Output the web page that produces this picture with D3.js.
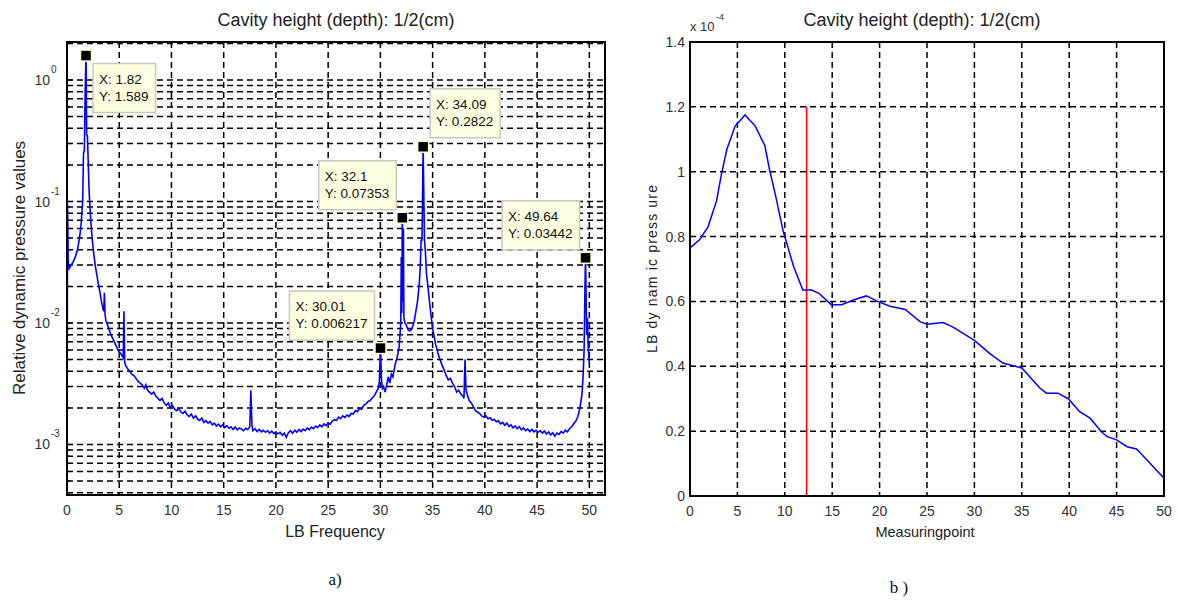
<!DOCTYPE html>
<html>
<head>
<meta charset="utf-8">
<script src="https://cdn.jsdelivr.net/npm/d3@7"></script>
<style>
  body { margin: 0; background: #fff; }
  svg { display: block; font-family: "Liberation Sans", Arial, sans-serif; }
</style>
</head>
<body>
<svg id="chart" width="1178" height="601"></svg>
<script>
const titleText = 'Cavity height (depth): 1/2(cm)';

// a) spectrum, values (frequency, relative pressure)
const lbFreq = [
  0.00, 0.05, 0.12, 0.20, 0.40, 0.60, 0.80, 1.00, 1.20, 1.35, 1.50, 1.58, 1.66, 1.74, 1.82, 1.88, 1.96, 2.04, 2.12, 2.25,
  2.40, 2.55, 2.70, 2.85, 3.00, 3.15, 3.30, 3.45, 3.52, 3.58, 3.64, 3.72, 3.85, 4.00, 4.20, 4.40, 4.60, 4.80, 5.00, 5.20,
  5.38, 5.45, 5.52, 5.60, 5.80, 6.00, 6.20, 6.40, 6.60, 6.80, 7.00, 7.20, 7.40, 7.55, 7.70, 7.90, 8.10, 8.30, 8.50, 8.70,
  8.90, 9.10, 9.30, 9.50, 9.70, 9.90, 10.1, 10.3, 10.5, 10.7, 10.9, 11.1, 11.3, 11.5, 11.7, 11.9, 12.1, 12.3, 12.5, 12.7,
  12.9, 13.1, 13.3, 13.5, 13.7, 13.9, 14.1, 14.3, 14.5, 14.7, 14.9, 15.1, 15.3, 15.5, 15.7, 15.9, 16.1, 16.3, 16.5, 16.7,
  16.9, 17.1, 17.3, 17.5, 17.6, 17.7, 17.8, 18.0, 18.2, 18.4, 18.6, 18.8, 19.0, 19.2, 19.4, 19.6, 19.8, 20.0, 20.2, 20.4,
  20.6, 20.8, 21.0, 21.2, 21.4, 21.6, 21.8, 22.0, 22.2, 22.4, 22.6, 22.8, 23.0, 23.2, 23.4, 23.6, 23.8, 24.0, 24.2, 24.4,
  24.6, 24.8, 25.0, 25.2, 25.4, 25.6, 25.8, 26.0, 26.2, 26.4, 26.6, 26.8, 27.0, 27.2, 27.4, 27.6, 27.8, 28.0, 28.2, 28.4,
  28.6, 28.8, 29.0, 29.2, 29.4, 29.6, 29.8, 29.9, 30.01, 30.1, 30.2, 30.3, 30.45, 30.6, 30.75, 30.9, 31.05, 31.2, 31.4, 31.6,
  31.8, 31.95, 32.0, 32.05, 32.1, 32.15, 32.2, 32.25, 32.35, 32.5, 32.65, 32.8, 32.95, 33.1, 33.25, 33.4, 33.55, 33.7, 33.8, 33.9,
  33.98, 34.04, 34.09, 34.15, 34.22, 34.3, 34.4, 34.55, 34.7, 34.85, 35.0, 35.15, 35.3, 35.5, 35.7, 35.9, 36.1, 36.3, 36.5, 36.7,
  36.9, 37.1, 37.3, 37.5, 37.7, 37.9, 38.0, 38.1, 38.2, 38.3, 38.5, 38.7, 38.9, 39.1, 39.3, 39.5, 39.7, 39.9, 40.1, 40.3,
  40.5, 40.7, 40.9, 41.1, 41.3, 41.5, 41.7, 41.9, 42.1, 42.3, 42.5, 42.7, 42.9, 43.1, 43.3, 43.5, 43.7, 43.9, 44.1, 44.3,
  44.5, 44.7, 44.9, 45.1, 45.3, 45.5, 45.7, 45.9, 46.1, 46.3, 46.5, 46.7, 46.9, 47.1, 47.3, 47.5, 47.7, 47.9, 48.1, 48.3,
  48.5, 48.7, 48.9, 49.1, 49.3, 49.4, 49.5, 49.55, 49.6, 49.64, 49.7, 49.75, 49.82, 49.9, 50.0
];
const lbValue = [
  0.0003, 0.095, 0.031, 0.028, 0.030, 0.032, 0.035, 0.040, 0.050, 0.065, 0.10, 0.25, 0.26, 0.80, 1.589, 0.36, 0.34, 0.20, 0.12, 0.075,
  0.050, 0.038, 0.030, 0.025, 0.021, 0.018, 0.015, 0.013, 0.0125, 0.0177, 0.0118, 0.0105, 0.0098, 0.0090, 0.0080, 0.0074, 0.0068, 0.0062, 0.0058, 0.0055,
  0.0052, 0.0125, 0.0048, 0.0045, 0.0042, 0.0040, 0.0038, 0.0037, 0.0035, 0.0033, 0.0032, 0.0031, 0.0029, 0.0031, 0.0028, 0.0027, 0.0026, 0.0027, 0.0025, 0.0024,
  0.0023, 0.0024, 0.0022, 0.0021, 0.0022, 0.0020, 0.0021, 0.00195, 0.0019, 0.00198, 0.00185, 0.0018, 0.00188, 0.00175, 0.0017, 0.00178, 0.00165, 0.00172, 0.00162, 0.00158,
  0.00165, 0.00152, 0.00157, 0.0015, 0.00155, 0.00145, 0.0015, 0.00142, 0.00147, 0.0014, 0.00145, 0.00138, 0.00143, 0.00136, 0.0014, 0.00133, 0.00139, 0.00132, 0.00137, 0.00134,
  0.0013, 0.00136, 0.00133, 0.0014, 0.0028, 0.00145, 0.0013, 0.00135, 0.00128, 0.00133, 0.00127, 0.00131, 0.00126, 0.0013, 0.00124, 0.00129, 0.00123, 0.00127, 0.00122, 0.00126,
  0.00119, 0.00124, 0.00115, 0.00125, 0.0013, 0.00124, 0.00131, 0.00126, 0.00133, 0.00128, 0.00134, 0.0013, 0.00137, 0.00132, 0.00139, 0.00135, 0.00142, 0.00138, 0.00145, 0.0014,
  0.00148, 0.00143, 0.0015, 0.00147, 0.00156, 0.0016, 0.00158, 0.00168, 0.00163, 0.00172, 0.00167, 0.00175, 0.0017, 0.0018, 0.00178, 0.0019, 0.00186, 0.00198, 0.00195, 0.0021,
  0.00215, 0.00225, 0.0023, 0.0024, 0.0025, 0.0027, 0.0029, 0.0033, 0.006217, 0.0034, 0.0029, 0.0030, 0.0027, 0.0031, 0.0036, 0.0032, 0.0038, 0.0036, 0.0045, 0.0052,
  0.0064, 0.0100, 0.035, 0.012, 0.07353, 0.015, 0.060, 0.011, 0.0100, 0.0095, 0.0088, 0.0086, 0.0088, 0.0094, 0.0105, 0.0125, 0.0150, 0.0200, 0.027, 0.048,
  0.048, 0.12, 0.2822, 0.12, 0.048, 0.040, 0.026, 0.020, 0.015, 0.0115, 0.0090, 0.0077, 0.0066, 0.0057, 0.0050, 0.0045, 0.0041, 0.0037, 0.0034, 0.0035,
  0.0032, 0.0030, 0.0027, 0.0028, 0.0026, 0.0025, 0.0024, 0.0050, 0.0028, 0.0026, 0.0023, 0.0022, 0.00205, 0.0019, 0.00185, 0.0018, 0.00172, 0.00168, 0.00172, 0.00163,
  0.00166, 0.00158, 0.00161, 0.00154, 0.00157, 0.00148, 0.00152, 0.00144, 0.0015, 0.00141, 0.00145, 0.00137, 0.00142, 0.00135, 0.0014, 0.00132, 0.00137, 0.0013, 0.00134, 0.00128,
  0.00133, 0.00127, 0.00131, 0.00126, 0.0013, 0.00124, 0.00129, 0.00122, 0.00127, 0.0012, 0.00125, 0.00117, 0.00124, 0.00121, 0.00128, 0.00124, 0.00131, 0.00127, 0.00135, 0.0014,
  0.00148, 0.00155, 0.0017, 0.0020, 0.0026, 0.0036, 0.0060, 0.012, 0.025, 0.03442, 0.014, 0.008, 0.011, 0.0062, 0.0047
];
const freqTicks = [0, 5, 10, 15, 20, 25, 30, 35, 40, 45, 50];
const decadeTicks = [1e-3, 1e-2, 1e-1, 1];
const decadeLabels = ['-3', '-2', '-1', '0'];

// data tips shown on the spectrum
const tipFreq  = [1.82, 34.09, 32.1, 30.01, 49.64];
const tipValue = [1.589, 0.2822, 0.07353, 0.006217, 0.03442];
const tipSide  = ['se', 'ne', 'nw', 'nw', 'nw'];

// b) LB dynamic pressure along the measuring points (x 1e-4)
const mpPoint = [
  0, 1.0, 1.9, 2.8, 3.3, 3.9, 4.75, 5.8, 6.9, 7.9, 8.4, 9.0, 9.8, 10.9, 11.9, 12.8, 13.6, 14.9, 16.0, 17.3,
  18.6, 19.8, 21.1, 22.7, 24.3, 25.0, 26.7, 27.8, 30.0, 31.6, 33.0, 35.0, 36.9, 37.6, 38.8, 39.9, 41.1, 42.2, 43.4, 44.0,
  45.0, 46.1, 47.1, 48.2, 50.0
];
const mpPressure = [
  0.765, 0.79, 0.83, 0.91, 0.99, 1.07, 1.14, 1.175, 1.14, 1.08, 1.005, 0.93, 0.82, 0.71, 0.635, 0.635, 0.625, 0.59, 0.59, 0.605,
  0.617, 0.60, 0.585, 0.575, 0.537, 0.53, 0.535, 0.52, 0.48, 0.44, 0.41, 0.395, 0.333, 0.317, 0.317, 0.30, 0.26, 0.24, 0.198, 0.183,
  0.173, 0.152, 0.145, 0.111, 0.055
];
const mpTicksX = [0, 5, 10, 15, 20, 25, 30, 35, 40, 45, 50];
const mpTicksY = [0, 0.2, 0.4, 0.6, 0.8, 1, 1.2, 1.4];
const cutPoint = 12.3;
const cutTop = 1.2;

const svg = d3.select('#chart');
const gridDash = '6,4';

function frame(g, b) {
  g.append('rect')
    .attr('x', b.left).attr('y', b.top)
    .attr('width', b.right - b.left).attr('height', b.bottom - b.top)
    .attr('fill', 'none').attr('stroke', '#000').attr('stroke-width', 2);
}

// ---------- a) ----------
const A = { left: 67, right: 605, top: 42, bottom: 495 };
const xA = d3.scaleLinear().domain([0, 51.5]).range([A.left, A.right]);
const yA = d3.scaleLog().domain([3.84e-4, 2.055]).range([A.bottom, A.top]);

const ga = svg.append('g');

// grid: every log tick (majors and minors) is dashed, like MATLAB's minor grid
ga.append('g').selectAll('line')
  .data(yA.ticks())
  .join('line')
  .attr('x1', A.left).attr('x2', A.right)
  .attr('y1', d => yA(d)).attr('y2', d => yA(d))
  .attr('stroke', '#000').attr('stroke-width', 1.5).attr('stroke-dasharray', gridDash);

ga.append('g').selectAll('line')
  .data(freqTicks.slice(1))
  .join('line')
  .attr('x1', d => xA(d)).attr('x2', d => xA(d))
  .attr('y1', A.top).attr('y2', A.bottom)
  .attr('stroke', '#000').attr('stroke-width', 1.5).attr('stroke-dasharray', gridDash);

// inside ticks
ga.append('g').selectAll('line')
  .data(yA.ticks())
  .join('line')
  .attr('x1', A.left).attr('x2', d => A.left + (decadeTicks.includes(d) ? 6 : 3))
  .attr('y1', d => yA(d)).attr('y2', d => yA(d))
  .attr('stroke', '#000').attr('stroke-width', 1.2);

const spectrum = lbFreq.map((f, i) => [f, lbValue[i]]);
ga.append('path')
  .datum(spectrum)
  .attr('fill', 'none')
  .attr('stroke', '#0000ff')
  .attr('stroke-width', 1.6)
  .attr('d', d3.line()
    .x(d => xA(d[0]))
    .y(d => Math.min(A.bottom, yA(Math.max(d[1], 1e-5)))));

frame(ga, A);

// tick labels
ga.append('g').selectAll('text')
  .data(freqTicks)
  .join('text')
  .attr('x', d => xA(d)).attr('y', 515)
  .attr('text-anchor', 'middle')
  .attr('font-size', 14).attr('fill', '#333')
  .text(d => d);

const dec = ga.append('g').selectAll('g')
  .data(decadeTicks)
  .join('g')
  .attr('transform', d => `translate(0,${yA(d)})`);
dec.append('text')
  .attr('x', 50).attr('y', 5)
  .attr('text-anchor', 'end')
  .attr('font-size', 14).attr('fill', '#333')
  .text('10');
dec.append('text')
  .attr('x', 51).attr('y', -7)
  .attr('font-size', 10).attr('fill', '#333')
  .text((d, i) => decadeLabels[i]);

ga.append('text')
  .attr('x', 336).attr('y', 26)
  .attr('text-anchor', 'middle').attr('font-size', 18).attr('fill', '#222')
  .text(titleText);
ga.append('text')
  .attr('x', 335).attr('y', 537)
  .attr('text-anchor', 'middle').attr('font-size', 16).attr('fill', '#222')
  .text('LB Frequency');
ga.append('text')
  .attr('transform', 'translate(25,268) rotate(-90)')
  .attr('text-anchor', 'middle').attr('font-size', 17).attr('fill', '#222')
  .text('Relative dynamic pressure values');

// data tips
const tips = ga.append('g').selectAll('g')
  .data(tipFreq.map((f, i) => ({ f, v: tipValue[i], side: tipSide[i] })))
  .join('g');

tips.each(function(d) {
  const g = d3.select(this);
  const mx = xA(d.f), my = yA(d.v);
  const box = g.append('rect').attr('fill', '#ffffe1').attr('stroke', '#c8c8c0').attr('stroke-width', 1.5);
  const t1 = g.append('text').attr('font-size', 13.5).attr('fill', '#111').text(`X: ${d.f}`);
  const t2 = g.append('text').attr('font-size', 13.5).attr('fill', '#111').text(`Y: ${d.v}`);
  const w = Math.max(t1.node().getComputedTextLength(), t2.node().getComputedTextLength()) + 13;
  const h = 49;
  let bx, by;
  if (d.side === 'se') { bx = mx + 7; by = my + 8; }
  else if (d.side === 'ne') { bx = mx + 7; by = my - 9 - h; }
  else { bx = mx - 6 - w; by = my - 8 - h; }
  box.attr('x', bx).attr('y', by).attr('width', w).attr('height', h);
  t1.attr('x', bx + 6).attr('y', by + 20);
  t2.attr('x', bx + 6).attr('y', by + 37);
  g.append('rect')
    .attr('x', mx - 5.5).attr('y', my - 5.5).attr('width', 11).attr('height', 11)
    .attr('fill', '#000').attr('stroke', '#ffffcc').attr('stroke-width', 1.5);
});

ga.append('text')
  .attr('x', 335).attr('y', 585)
  .attr('text-anchor', 'middle')
  .attr('font-family', '"Liberation Serif", "Times New Roman", serif')
  .attr('font-size', 17).attr('fill', '#111')
  .text('a)');

// ---------- b) ----------
const B = { left: 690, right: 1164, top: 42, bottom: 496 };
const xB = d3.scaleLinear().domain([0, 50]).range([B.left, B.right]);
const yB = d3.scaleLinear().domain([0, 1.4]).range([B.bottom, B.top]);

const gb = svg.append('g');

gb.append('g').selectAll('line')
  .data(mpTicksY.slice(1, -1))
  .join('line')
  .attr('x1', B.left).attr('x2', B.right)
  .attr('y1', d => yB(d)).attr('y2', d => yB(d))
  .attr('stroke', '#000').attr('stroke-width', 1.5).attr('stroke-dasharray', gridDash);

gb.append('g').selectAll('line')
  .data(mpTicksX.slice(1, -1))
  .join('line')
  .attr('x1', d => xB(d)).attr('x2', d => xB(d))
  .attr('y1', B.top).attr('y2', B.bottom)
  .attr('stroke', '#000').attr('stroke-width', 1.5).attr('stroke-dasharray', gridDash);

gb.append('line')
  .attr('x1', xB(cutPoint)).attr('x2', xB(cutPoint))
  .attr('y1', yB(0)).attr('y2', yB(cutTop))
  .attr('stroke', '#ff0000').attr('stroke-width', 1.6);

gb.append('path')
  .datum(mpPoint.map((p, i) => [p, mpPressure[i]]))
  .attr('fill', 'none')
  .attr('stroke', '#0000ff')
  .attr('stroke-width', 1.5)
  .attr('d', d3.line().x(d => xB(d[0])).y(d => yB(d[1])));

frame(gb, B);

gb.append('g').selectAll('text')
  .data(mpTicksX)
  .join('text')
  .attr('x', d => xB(d)).attr('y', 516)
  .attr('text-anchor', 'middle')
  .attr('font-size', 14).attr('fill', '#333')
  .text(d => d);

gb.append('g').selectAll('text')
  .data(mpTicksY)
  .join('text')
  .attr('x', 685).attr('y', d => yB(d) + 5)
  .attr('text-anchor', 'end')
  .attr('font-size', 14).attr('fill', '#333')
  .text(d => d);

gb.append('text')
  .attr('x', 690).attr('y', 31)
  .attr('font-size', 13).attr('fill', '#333')
  .text('x 10');
gb.append('text')
  .attr('x', 716).attr('y', 20)
  .attr('font-size', 9).attr('fill', '#333')
  .text('-4');

gb.append('text')
  .attr('x', 922).attr('y', 26)
  .attr('text-anchor', 'middle').attr('font-size', 18).attr('fill', '#222')
  .text(titleText);
gb.append('text')
  .attr('x', 925).attr('y', 537)
  .attr('text-anchor', 'middle').attr('font-size', 14.5).attr('fill', '#222')
  .text('Measuringpoint');
gb.append('text')
  .attr('transform', 'translate(657,269) rotate(-90)')
  .attr('text-anchor', 'middle').attr('font-size', 14).attr('fill', '#222')
  .attr('textLength', 168).attr('lengthAdjust', 'spacing')
  .text('LB dy nam ic press ure');

gb.append('text')
  .attr('x', 899).attr('y', 593)
  .attr('text-anchor', 'middle')
  .attr('font-family', '"Liberation Serif", "Times New Roman", serif')
  .attr('font-size', 17).attr('fill', '#111')
  .text('b )');
</script>
</body>
</html>
